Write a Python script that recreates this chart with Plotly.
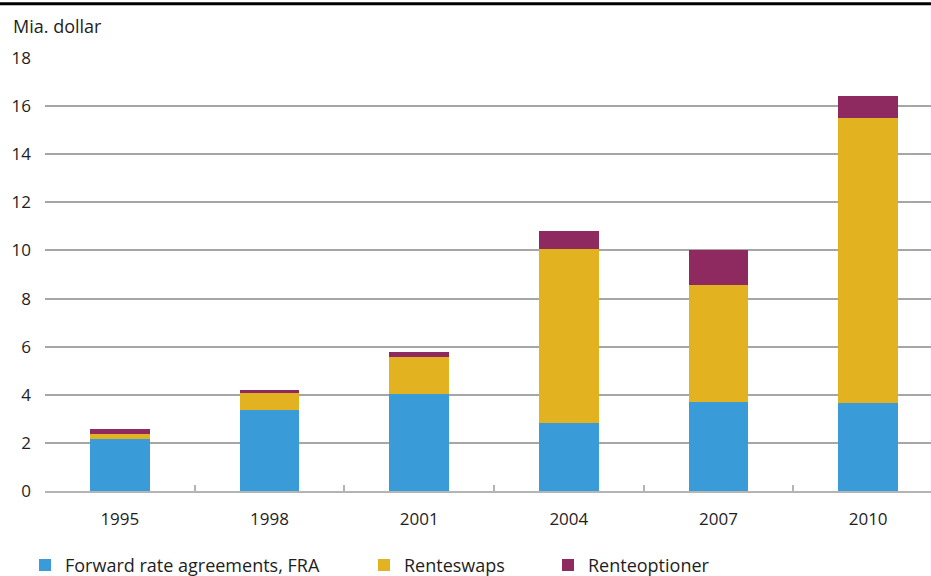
import plotly.graph_objects as go

years = ["1995", "1998", "2001", "2004", "2007", "2010"]
fra = [2.18, 3.38, 4.04, 2.84, 3.71, 3.67]
swaps = [0.20, 0.71, 1.54, 7.22, 4.85, 11.82]
options = [0.21, 0.12, 0.21, 0.74, 1.46, 0.91]

names = ["Forward rate agreements, FRA", "Renteswaps", "Renteoptioner"]
colors = ["#3A9BD9", "#E2B221", "#8F2A60"]
series = [fra, swaps, options]

W, H = 931, 576
L, R, T, B = 45, 0, 57.5, 84.5
PW = W - L - R
PH = H - T - B

FONT = "Open Sans"
TXT = "#1E1E1E"
fig = go.Figure()
legend_names = ["legend", "legend2", "legend3"]
legend_text_px = [64, 403, 587]
for i, (nm, col, vals) in enumerate(zip(names, colors, series)):
    fig.add_trace(go.Bar(x=years, y=vals, name=nm, marker=dict(color=col, line=dict(width=0)),
                         width=0.4, legend=legend_names[i]))

leg_common = dict(orientation="h", yanchor="middle", xanchor="left",
                  font=dict(family=FONT, size=18, color=TXT),
                  bgcolor="rgba(0,0,0,0)", borderwidth=0, itemwidth=30)
layout_legends = {}
for ln, px in zip(legend_names, legend_text_px):
    layout_legends[ln] = dict(leg_common, x=(px - 39 - L) / PW, y=-(566 - (T + PH)) / PH)

fig.update_layout(
    width=W, height=H,
    margin=dict(l=L, r=R, t=T, b=B, pad=0, autoexpand=False),
    barmode="stack",
    plot_bgcolor="white", paper_bgcolor="white",
    font=dict(family=FONT, size=17, color=TXT),
    showlegend=True,
    xaxis=dict(type="category", range=[-0.5, 5.42], showgrid=False,
               showline=True, linecolor="#B4B4B4", linewidth=2,
               ticks="inside", tickson="boundaries", ticklen=6, tickcolor="#B4B4B4", tickwidth=1.5,
               ticklabelstandoff=12,
               tickfont=dict(family=FONT, size=17, color=TXT), zeroline=False),
    yaxis=dict(range=[0, 18], dtick=2, tick0=0, showgrid=True, gridcolor="#A6A6A6", gridwidth=1.5,
               zeroline=False, showline=False, ticks="", ticklabelstandoff=13,
               tickfont=dict(family=FONT, size=17, color=TXT)),
    annotations=[dict(text="Mia. dollar", xref="paper", yref="paper",
                      x=(11 - L) / PW, y=1 + (T - 25) / PH, xanchor="left", yanchor="middle",
                      showarrow=False, font=dict(family=FONT, size=18, color=TXT))],
    shapes=[dict(type="line", xref="paper", yref="paper", x0=-L / PW, x1=1,
                 y0=1 + (T - 3) / PH, y1=1 + (T - 3) / PH, line=dict(color="black", width=3))],
    **layout_legends,
)

fig.write_html("out.html", config={"displayModeBar": False},
               post_script="document.body.style.margin='0';document.body.style.overflow='hidden';")
